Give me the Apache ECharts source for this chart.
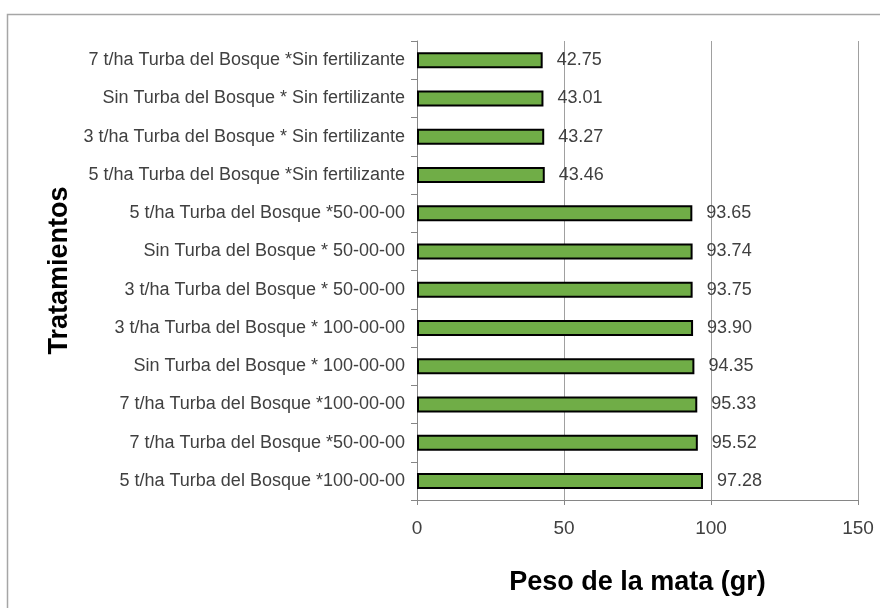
<!DOCTYPE html>
<html>
<head>
<meta charset="utf-8">
<script src="https://cdn.jsdelivr.net/npm/echarts@6/dist/echarts.min.js"></script>
<style>
html, body { margin: 0; padding: 0; background: #fff; }
#container { width: 880px; height: 608px; }
</style>
</head>
<body>
<div id="container"></div>
<script>
// datos del grafico (de arriba hacia abajo)
var tratamientos = [
   '7 t/ha Turba del Bosque *Sin fertilizante',
   'Sin Turba del Bosque * Sin fertilizante',
   '3 t/ha Turba del Bosque * Sin fertilizante',
   '5 t/ha Turba del Bosque *Sin fertilizante',
   '5 t/ha Turba del Bosque *50-00-00',
   'Sin Turba del Bosque * 50-00-00',
   '3 t/ha Turba del Bosque * 50-00-00',
   '3 t/ha Turba del Bosque * 100-00-00',
   'Sin Turba del Bosque * 100-00-00',
   '7 t/ha Turba del Bosque *100-00-00',
   '7 t/ha Turba del Bosque *50-00-00',
   '5 t/ha Turba del Bosque *100-00-00'
];
var pesoMata = [42.75, 43.01, 43.27, 43.46, 93.65, 93.74, 93.75, 93.90, 94.35, 95.33, 95.52, 97.28];
var ejeX = { min: 0, max: 150, interval: 50 };

var fuente = "'Liberation Sans', Arial, sans-serif";
var grisEje = '#868686';

var dom = document.getElementById('container');
var myChart = echarts.init(dom, null, { renderer: 'canvas' });

var option = {
   animation: false,
   graphic: [{
      type: 'rect',
      shape: { x: 7.5, y: 14.5, width: 900, height: 700 },
      style: { fill: 'none', stroke: '#a6a6a6', lineWidth: 1.5 },
      silent: true
   }],
   grid: { left: 417, right: 22, top: 41, bottom: 108, containLabel: false },
   xAxis: {
      type: 'value',
      min: ejeX.min,
      max: ejeX.max,
      interval: ejeX.interval,
      name: 'Peso de la mata (gr)',
      nameLocation: 'middle',
      nameGap: 69,
      nameTextStyle: { fontFamily: fuente, fontWeight: 'bold', fontSize: 27, color: '#000' },
      axisLine: { show: true, lineStyle: { color: grisEje, width: 1 } },
      axisTick: { show: true, length: 5, lineStyle: { color: grisEje } },
      axisLabel: { fontFamily: fuente, fontSize: 19, color: '#404040', margin: 19 },
      splitLine: { show: true, lineStyle: { color: '#a0a0a0', width: 1 } }
   },
   yAxis: {
      type: 'category',
      data: tratamientos,
      inverse: true,
      name: 'Tratamientos',
      nameLocation: 'middle',
      nameGap: 342,
      nameRotate: 90,
      nameTextStyle: { fontFamily: fuente, fontWeight: 'bold', fontSize: 27, color: '#000' },
      axisLine: { show: true, lineStyle: { color: grisEje, width: 1 } },
      axisTick: { show: true, length: 6, lineStyle: { color: grisEje } },
      axisLabel: { fontFamily: fuente, fontSize: 18, color: '#404040', margin: 12 }
   },
   series: [{
      type: 'bar',
      data: pesoMata,
      barWidth: 16,
      itemStyle: { color: '#70ad47', borderColor: '#000', borderWidth: 2 },
      label: {
         show: true,
         position: 'right',
         distance: 14,
         fontFamily: fuente,
         fontSize: 18,
         color: '#404040',
         formatter: function (p) { return p.value.toFixed(2); }
      }
   }]
};

myChart.setOption(option);
window.addEventListener('resize', myChart.resize);
</script>
</body>
</html>
